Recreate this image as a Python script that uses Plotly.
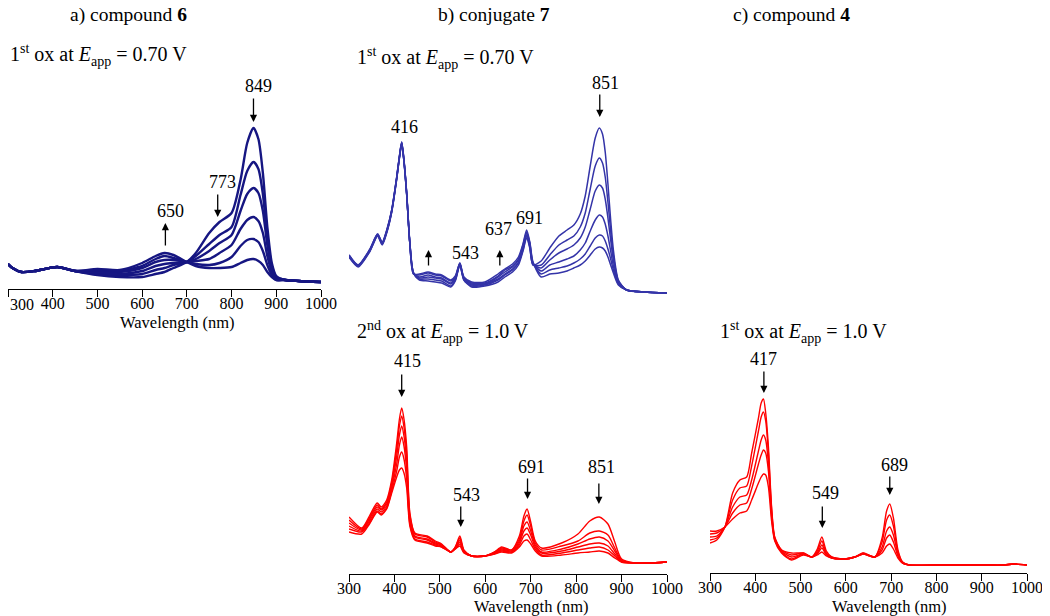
import plotly.graph_objects as go

W, H = 1050, 616
OX, OY = 8, 8  # page body offset of the plot div inside the browser window
FONT = "Liberation Serif"
TICKS = [300, 400, 500, 600, 700, 800, 900, 1000]
TICK_TEXT = ["300", "400", "500", "600", "700", "800", "900", "1000"]

# ---------------- Panel a: compound 6, 1st ox at 0.70 V ----------------
WL_A = [300, 310, 330, 360, 410, 450, 500, 550, 600, 630, 650, 670, 700, 720,
        750, 773, 800, 820, 835, 849, 860, 870, 880, 890, 900, 920, 950, 1000]
A_1 = [0.25,0.21,0.17,0.18,0.22,0.18,0.14,0.12,0.12,0.15,0.17,0.21,0.27,0.36,0.56,0.67,0.76,1.09,1.46,1.61,1.50,1.16,0.62,0.26,0.13,0.09,0.08,0.07]
A_2 = [0.25,0.21,0.17,0.18,0.22,0.18,0.15,0.14,0.15,0.19,0.21,0.24,0.27,0.33,0.45,0.54,0.62,0.94,1.18,1.27,1.20,0.95,0.52,0.23,0.12,0.09,0.08,0.07]
A_3 = [0.25,0.21,0.17,0.18,0.22,0.18,0.16,0.15,0.18,0.23,0.25,0.26,0.27,0.30,0.38,0.46,0.54,0.78,0.95,1.01,0.96,0.78,0.44,0.20,0.11,0.09,0.08,0.07]
A_4 = [0.25,0.21,0.17,0.18,0.22,0.18,0.17,0.17,0.21,0.27,0.29,0.29,0.27,0.28,0.30,0.36,0.44,0.60,0.69,0.72,0.68,0.56,0.33,0.17,0.10,0.09,0.08,0.07]
A_5 = [0.25,0.21,0.17,0.18,0.22,0.18,0.19,0.18,0.23,0.30,0.33,0.31,0.27,0.25,0.24,0.26,0.32,0.43,0.49,0.50,0.47,0.38,0.24,0.14,0.09,0.09,0.08,0.07]
A_6 = [0.25,0.21,0.17,0.18,0.22,0.18,0.20,0.19,0.26,0.33,0.36,0.34,0.27,0.23,0.21,0.21,0.22,0.26,0.29,0.30,0.28,0.24,0.17,0.12,0.09,0.09,0.08,0.07]

# ---------------- Panel b (top): conjugate 7, 1st ox at 0.70 V ----------------
WL_B1 = [300, 320, 345, 363, 373, 383, 394, 405, 411, 416, 421, 427, 434, 442,
         455, 474, 490, 504, 524, 534, 544, 553, 570, 599, 628, 643, 660, 673,
         683, 691, 698, 705, 723, 742, 762, 780, 795, 809, 820, 831, 842, 851,
         858, 864, 870, 876, 882, 893, 911, 950, 1000]
B1_1 = [0.41,0.31,0.46,0.62,0.54,0.66,0.86,1.19,1.40,1.54,1.36,1.03,0.53,0.23,
        0.16,0.15,0.14,0.13,0.09,0.15,0.31,0.16,0.09,0.10,0.14,0.19,0.24,0.31,0.45,0.58,0.48,0.31,
        0.35,0.48,0.60,0.66,0.71,0.82,1.00,1.30,1.58,1.68,1.62,1.44,1.12,0.76,0.46,0.16,0.06,0.04,0.03]
B1_2 = [0.41,0.31,0.46,0.62,0.53,0.65,0.86,1.19,1.40,1.54,1.36,1.03,0.53,0.23,
        0.17,0.17,0.16,0.15,0.10,0.16,0.31,0.16,0.10,0.11,0.16,0.21,0.26,0.33,0.46,0.60,0.49,0.31,
        0.31,0.41,0.51,0.56,0.60,0.69,0.83,1.07,1.30,1.38,1.33,1.19,0.94,0.65,0.40,0.15,0.06,0.04,0.03]
B1_3 = [0.40,0.30,0.45,0.61,0.53,0.65,0.85,1.18,1.39,1.53,1.35,1.02,0.53,0.23,
        0.18,0.19,0.18,0.17,0.12,0.17,0.32,0.17,0.11,0.12,0.17,0.22,0.27,0.34,0.48,0.61,0.50,0.32,
        0.28,0.36,0.43,0.47,0.51,0.58,0.69,0.87,1.05,1.11,1.08,0.97,0.78,0.56,0.36,0.14,0.06,0.04,0.03]
B1_4 = [0.40,0.30,0.45,0.61,0.52,0.64,0.85,1.18,1.39,1.53,1.35,1.02,0.52,0.23,
        0.19,0.21,0.19,0.18,0.13,0.18,0.32,0.18,0.12,0.12,0.19,0.24,0.29,0.36,0.49,0.63,0.52,0.33,
        0.25,0.31,0.34,0.37,0.40,0.46,0.53,0.65,0.76,0.81,0.79,0.72,0.60,0.45,0.30,0.13,0.06,0.04,0.03]
B1_5 = [0.39,0.30,0.44,0.60,0.52,0.64,0.84,1.17,1.38,1.52,1.34,1.01,0.52,0.22,
        0.21,0.23,0.21,0.20,0.15,0.19,0.33,0.18,0.13,0.13,0.20,0.26,0.30,0.37,0.51,0.64,0.53,0.33,
        0.22,0.26,0.28,0.30,0.33,0.37,0.42,0.50,0.58,0.61,0.60,0.55,0.47,0.37,0.26,0.12,0.06,0.04,0.03]
B1_6 = [0.39,0.29,0.44,0.60,0.51,0.63,0.84,1.17,1.38,1.52,1.34,1.01,0.52,0.22,
        0.22,0.24,0.22,0.21,0.16,0.20,0.33,0.19,0.14,0.14,0.22,0.27,0.32,0.39,0.52,0.66,0.54,0.34,
        0.19,0.22,0.23,0.25,0.28,0.31,0.35,0.41,0.47,0.49,0.48,0.45,0.39,0.31,0.23,0.11,0.06,0.04,0.03]

# ---------------- Panel b (bottom): conjugate 7, 2nd ox at 1.0 V ----------------
WL_B2 = [300, 328, 345, 362, 371, 383, 394, 405, 411, 416, 421, 427, 434, 445,
         472, 490, 504, 524, 534, 544, 553, 570, 599, 620, 636, 658, 675, 685,
         692, 700, 710, 724, 768, 804, 830, 851, 870, 885, 900, 929, 960, 1000]
B2_1 = [0.57,0.46,0.58,0.71,0.67,0.74,0.94,1.31,1.55,1.66,1.55,1.27,0.61,0.41,0.38,0.33,0.30,0.22,0.27,0.38,0.24,0.18,0.18,0.22,0.27,0.24,0.38,0.58,0.65,0.52,0.33,0.26,0.31,0.40,0.53,0.57,0.50,0.32,0.15,0.11,0.11,0.12]
B2_2 = [0.54,0.45,0.56,0.69,0.65,0.72,0.91,1.25,1.48,1.58,1.47,1.20,0.59,0.40,0.37,0.32,0.29,0.22,0.27,0.36,0.23,0.18,0.18,0.22,0.26,0.24,0.35,0.53,0.59,0.48,0.31,0.24,0.28,0.33,0.41,0.43,0.39,0.26,0.14,0.11,0.11,0.12]
B2_3 = [0.51,0.44,0.55,0.67,0.64,0.70,0.88,1.18,1.39,1.48,1.38,1.12,0.56,0.38,0.35,0.31,0.29,0.22,0.26,0.34,0.23,0.18,0.18,0.21,0.25,0.23,0.33,0.48,0.52,0.43,0.29,0.22,0.25,0.30,0.35,0.37,0.33,0.23,0.13,0.11,0.11,0.12]
B2_4 = [0.48,0.43,0.53,0.65,0.62,0.68,0.86,1.10,1.29,1.37,1.28,1.04,0.53,0.37,0.34,0.30,0.28,0.22,0.26,0.32,0.22,0.18,0.18,0.21,0.24,0.22,0.31,0.43,0.46,0.39,0.27,0.21,0.23,0.27,0.30,0.31,0.28,0.20,0.13,0.11,0.11,0.12]
B2_5 = [0.45,0.42,0.51,0.63,0.60,0.66,0.83,1.03,1.17,1.22,1.15,0.95,0.50,0.35,0.32,0.29,0.27,0.22,0.25,0.30,0.22,0.18,0.18,0.20,0.23,0.22,0.29,0.38,0.40,0.34,0.25,0.19,0.21,0.24,0.26,0.27,0.24,0.18,0.12,0.11,0.11,0.12]
B2_6 = [0.42,0.40,0.50,0.62,0.59,0.65,0.81,0.97,1.04,1.06,1.01,0.86,0.48,0.34,0.31,0.28,0.27,0.22,0.25,0.28,0.21,0.18,0.18,0.20,0.22,0.21,0.27,0.33,0.34,0.30,0.23,0.18,0.19,0.21,0.22,0.23,0.21,0.16,0.12,0.11,0.11,0.12]

# ---------------- Panel c: compound 4, 1st ox at 1.0 V ----------------
WL_C = [300, 315, 333, 350, 366, 381, 392, 407, 413, 418, 423, 429, 436, 443,
        458, 480, 506, 525, 537, 547, 557, 569, 598, 620, 638, 664, 680, 690,
        697, 705, 715, 725, 740, 800, 900, 950, 970, 1000]
C_1 = [0.30,0.33,0.46,0.80,0.93,0.96,1.20,1.55,1.70,1.74,1.60,1.26,0.66,0.36,0.23,0.20,0.20,0.16,0.24,0.36,0.22,0.16,0.14,0.16,0.20,0.16,0.35,0.62,0.69,0.55,0.23,0.11,0.08,0.08,0.08,0.08,0.09,0.08]
C_2 = [0.33,0.35,0.46,0.73,0.85,0.87,1.07,1.42,1.56,1.61,1.52,1.20,0.64,0.35,0.23,0.18,0.20,0.16,0.22,0.32,0.20,0.16,0.14,0.16,0.20,0.16,0.31,0.53,0.58,0.47,0.21,0.11,0.08,0.08,0.08,0.08,0.09,0.08]
C_3 = [0.36,0.37,0.46,0.66,0.76,0.78,0.93,1.22,1.33,1.38,1.33,1.10,0.60,0.34,0.22,0.16,0.19,0.16,0.20,0.28,0.19,0.15,0.14,0.16,0.19,0.16,0.26,0.42,0.46,0.38,0.19,0.10,0.08,0.08,0.08,0.08,0.09,0.08]
C_4 = [0.39,0.40,0.46,0.60,0.68,0.70,0.84,1.09,1.18,1.23,1.20,1.02,0.57,0.33,0.21,0.14,0.19,0.16,0.19,0.25,0.18,0.15,0.14,0.16,0.19,0.16,0.23,0.35,0.38,0.31,0.17,0.10,0.08,0.08,0.08,0.08,0.09,0.08]
C_5 = [0.42,0.42,0.46,0.54,0.60,0.62,0.73,0.90,0.96,0.99,0.98,0.86,0.52,0.32,0.20,0.13,0.18,0.16,0.18,0.21,0.17,0.15,0.14,0.16,0.19,0.16,0.20,0.27,0.29,0.24,0.15,0.10,0.08,0.08,0.08,0.08,0.09,0.08]

NAVY = "rgb(22,22,130)"
BLUE = "rgb(52,52,168)"
RED = "rgb(255,0,0)"


def fx(px):
    return max(0.0, (px - OX) / W)


def fy(py):
    return 1 - (py - OY) / H


fig = go.Figure()

panels = [
    (WL_A, [A_1, A_2, A_3, A_4, A_5, A_6], "x", "y", NAVY, 2.4),
    (WL_B1, [B1_1, B1_2, B1_3, B1_4, B1_5, B1_6], "x2", "y2", BLUE, 1.5),
    (WL_B2, [B2_1, B2_2, B2_3, B2_4, B2_5, B2_6], "x3", "y3", RED, 1.4),
    (WL_C, [C_1, C_2, C_3, C_4, C_5], "x4", "y4", RED, 1.4),
]
for wl, series, xa, ya, col, lw in panels:
    for s in series:
        fig.add_trace(go.Scatter(
            x=wl, y=s, mode="lines", xaxis=xa, yaxis=ya,
            line=dict(color=col, width=lw, shape="spline", smoothing=0.7),
            showlegend=False, hoverinfo="skip"))


def xax(dom, show=True, labels=TICK_TEXT):
    return dict(domain=dom, range=[300, 1000], showgrid=False, zeroline=False,
                visible=show, showline=True, linecolor="black", linewidth=1.3,
                ticks="outside", ticklen=7, tickwidth=1.3, tickcolor="black",
                tickmode="array", tickvals=TICKS, ticktext=labels,
                tickfont=dict(family=FONT, size=16, color="black"),
                ticklabelstandoff=-7,
                automargin=False, ticklabeloverflow="allow", fixedrange=True)


def yax(pb, pt, anchor):
    return dict(domain=[fy(pb), fy(pt)], range=[0, (pb - pt) / 100.0],
                visible=False, anchor=anchor, automargin=False, fixedrange=True)


# panel a sits on the left page edge: its first label is set as text beside the edge
LABELS_A = [""] + TICK_TEXT[1:]

layout = dict(
    width=W, height=H,
    margin=dict(l=0, r=0, t=0, b=0, pad=0, autoexpand=False),
    paper_bgcolor="white", plot_bgcolor="white", showlegend=False,
    xaxis=dict(xax([fx(3), fx(321)], labels=LABELS_A), anchor="y"),
    yaxis=yax(289, 60, "x"),
    xaxis2=dict(xax([fx(349), fx(667)], show=False), anchor="y2"),
    yaxis2=yax(296, 60, "x2"),
    xaxis3=dict(xax([fx(349), fx(667)]), anchor="y3"),
    yaxis3=yax(574, 340, "x3"),
    xaxis4=dict(xax([fx(710), fx(1027)]), anchor="y4"),
    yaxis4=yax(573, 340, "x4"),
)
fig.update_layout(**layout)

ann = []


def text(px, py, s, size=18, anchor="center"):
    ann.append(dict(x=fx(px), y=fy(py), xref="paper", yref="paper", text=s,
                    showarrow=False, xanchor=anchor, yanchor="middle",
                    font=dict(family=FONT, size=size, color="black")))


def arrow(xref, wl, head_py, tail_py):
    ann.append(dict(x=wl, y=fy(head_py), xref=xref, yref="paper", text="",
                    showarrow=True, ax=0, ay=tail_py - head_py, axref="pixel",
                    ayref="pixel", arrowhead=2, arrowsize=1.1, arrowwidth=1.3,
                    arrowcolor="black", standoff=0, startstandoff=0))


# panel titles
text(128, 15, "a) compound <b>6</b>", 19.5)
text(494, 15, "b) conjugate <b>7</b>", 19.5)
text(791, 15, "c) compound <b>4</b>", 19.5)

# condition subtitles
text(7, 55, "1<sup>st</sup> ox at <i>E</i><sub>app</sub> = 0.70 V", 20, "left")
text(355, 58, "1<sup>st</sup> ox at <i>E</i><sub>app</sub> = 0.70 V", 20, "left")
text(355, 332, "2<sup>nd</sup> ox at <i>E</i><sub>app</sub> = 1.0 V", 20, "left")
text(718, 332, "1<sup>st</sup> ox at <i>E</i><sub>app</sub> = 1.0 V", 20, "left")

# first tick label of panel a, kept inside the page
ann.append(dict(x=0, y=fy(304), xref="paper", yref="paper", text=TICK_TEXT[0],
                showarrow=False, xanchor="left", yanchor="middle",
                font=dict(family=FONT, size=16, color="black")))

# axis titles
for px_c, py_c in [(177, 322), (531, 606), (889, 606)]:
    text(px_c, py_c, "Wavelength (nm)", 16.5)

# peak labels
for px_c, py_c, s in [(258, 86, "849"), (222, 182, "773"), (170, 211, "650"),
                      (404, 127, "416"), (605, 83, "851"), (465, 253, "543"),
                      (498, 229, "637"), (529, 218, "691"),
                      (407, 361, "415"), (466, 495, "543"), (531, 467, "691"),
                      (601, 467, "851"),
                      (763, 359, "417"), (825, 493, "549"), (894, 465, "689")]:
    text(px_c, py_c, s, 18)

# arrows (x in wavelength)
arrow("x", 849, 122, 97)
arrow("x", 769, 217, 193)
arrow("x", 652, 223, 247)
arrow("x2", 852, 117, 93)
arrow("x2", 475, 250, 267)
arrow("x2", 632, 250, 267)
arrow("x3", 416, 397, 373)
arrow("x3", 546, 527, 505)
arrow("x3", 693, 499, 477)
arrow("x3", 850, 504, 482)
arrow("x4", 419, 393, 370)
arrow("x4", 548, 528, 505)
arrow("x4", 697, 495, 475)

fig.update_layout(annotations=ann)
fig.write_html("out.html")
